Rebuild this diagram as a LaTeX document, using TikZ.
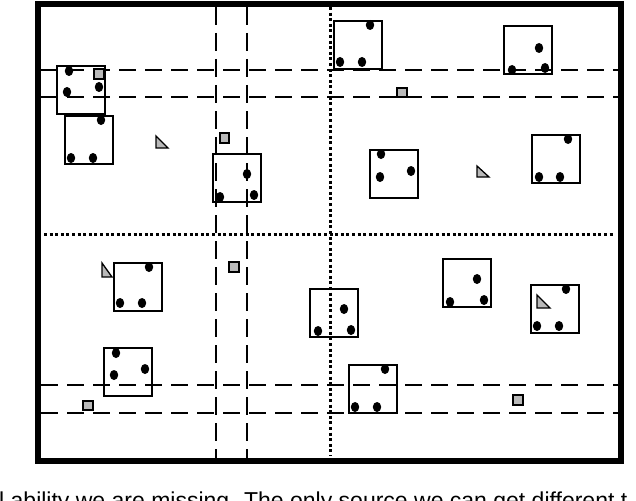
\documentclass[tikz,border=0pt]{standalone}
\usepackage{fontspec}
\setmainfont{Liberation Sans}
\begin{document}
\begin{tikzpicture}[x=1pt,y=-1pt,
  frame/.style={line width=6.5pt},
  hdash/.style={line width=2.6pt, dash pattern=on 17pt off 9pt},
  vdash/.style={line width=2.6pt, dash pattern=on 18pt off 8pt},
  dotline/.style={line width=3pt, dash pattern=on 3pt off 2.6pt},
  cell/.style={draw, line width=2pt, minimum size=48pt, inner sep=0pt},
  gsq/.style={draw=black, fill=gray!55, line width=1.6pt, minimum size=9.5pt, inner sep=0pt},
  tri/.style={draw=black, fill=gray!55, line width=1.3pt, line join=miter}]
\useasboundingbox (0,0) rectangle (636,500);
\newcommand{\dotat}[1]{\fill #1 ellipse [x radius=4.2pt, y radius=5pt];}
% dashed and dotted lines
\draw[hdash] (41,70) -- (618,70);
\draw[hdash] (41,97) -- (618,97);
\draw[hdash] (41,385) -- (618,385);
\draw[hdash] (41,413) -- (618,413);
\draw[vdash] (216,7) -- (216,458);
\draw[vdash] (247,7) -- (247,458);
\draw[dotline] (44,234) -- (613,234);
\draw[dotline] (330,7) -- (330,456);
% frame
\draw[frame] (38,4) rectangle (621,461);
% boxes
\node[cell] (bA) at (81,90) {};
\dotat{(69,71)} \dotat{(67,92)} \dotat{(99,87)}
\node[gsq] (gA) at (99,74) {};
\node[cell] (bB) at (89,140) {};
\dotat{(101,120)} \dotat{(71,158)} \dotat{(93,158)}
\draw[tri] (156,136) -- (156,148) -- (168,148) -- cycle;
\node[gsq] (g1) at (224.5,138) {};
\node[cell] (bC) at (236.5,177.5) {};
\dotat{(247,174)} \dotat{(220,197)} \dotat{(254,195)}
\node[cell] (bD) at (358,45) {};
\dotat{(370,25)} \dotat{(340,62)} \dotat{(362,62)}
\node[cell] (bE) at (528,50.5) {};
\dotat{(539,48)} \dotat{(512,70)} \dotat{(545,68)}
\node[gsq] (g2) at (402,92.5) {};
\node[cell] (bF) at (393.5,173.5) {};
\dotat{(381,154)} \dotat{(380,177)} \dotat{(411,171)}
\draw[tri] (477,166) -- (477,177) -- (489,177) -- cycle;
\node[cell] (bG) at (556,159) {};
\dotat{(568,139)} \dotat{(539,177)} \dotat{(560,177)}
\draw[tri] (102,263) -- (102,277) -- (112,277) -- cycle;
\node[cell] (bH) at (137.5,286.5) {};
\dotat{(149,267)} \dotat{(120,303)} \dotat{(142,303)}
\node[gsq] (g3) at (234,267) {};
\node[cell] (bI) at (128,372) {};
\dotat{(116,353)} \dotat{(114,375)} \dotat{(145,369)}
\node[gsq] (g4) at (88,405.5) {};
\node[cell] (bJ) at (334,312.5) {};
\dotat{(344,309)} \dotat{(318,331)} \dotat{(351,330)}
\node[cell] (bK) at (466.5,282.5) {};
\dotat{(477,279)} \dotat{(450,302)} \dotat{(484,300)}
\node[cell] (bL) at (554.5,308.5) {};
\dotat{(566,289)} \dotat{(537,326)} \dotat{(559,326)}
\draw[tri] (537,295) -- (537,308) -- (550,308) -- cycle;
\node[cell] (bM) at (373,389) {};
\dotat{(385,369)} \dotat{(355,407)} \dotat{(377,407)}
\node[gsq] (g5) at (518,400) {};
% cut-off caption text
\begin{scope}
\clip (0,0) rectangle (636,500);
\node[anchor=base west, inner sep=0pt] (cap) at (-1,508)
  {\fontsize{23}{27}\selectfont l ability we are missing. The only source we can get different t};
\end{scope}
\end{tikzpicture}
\end{document}
